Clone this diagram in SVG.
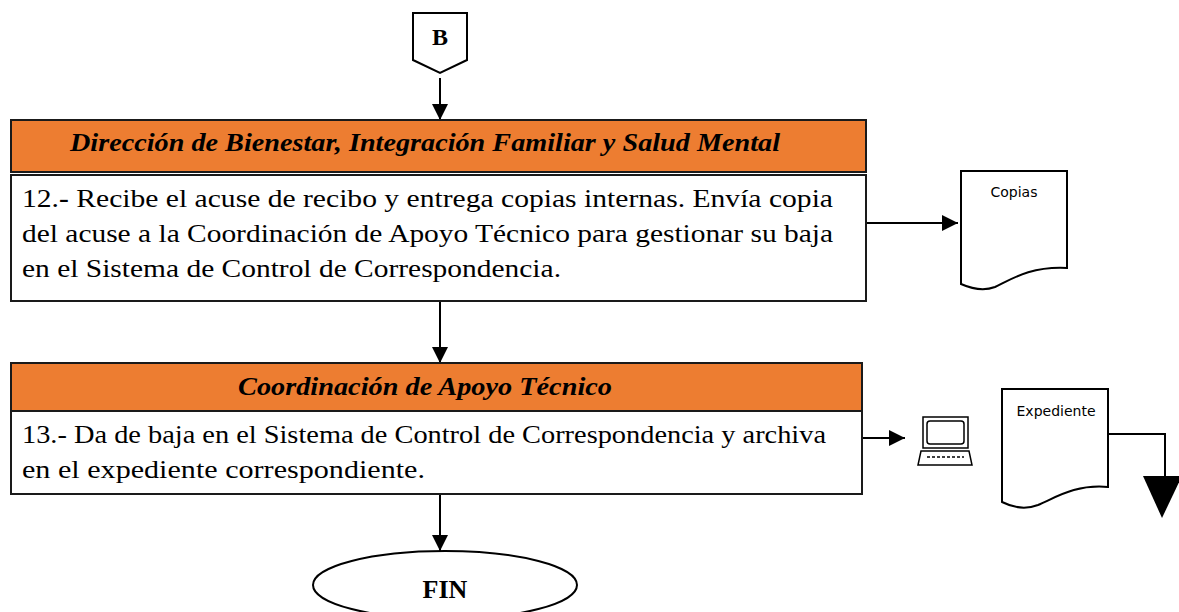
<svg xmlns="http://www.w3.org/2000/svg" width="1179" height="612" viewBox="0 0 1179 612">
<defs>
<style>
.hdr{fill:#ED7D31;stroke:#1a1a1a;stroke-width:2}
.box{fill:#fff;stroke:#1a1a1a;stroke-width:2}
.ln{fill:none;stroke:#000;stroke-width:2}
.ht{font-family:"Liberation Serif",serif;font-style:italic;font-weight:bold;font-size:25px;fill:#000}
.bt{font-family:"Liberation Serif",serif;font-size:26px;fill:#000}
.dt{font-family:"DejaVu Sans",sans-serif;font-size:14px;fill:#000;text-anchor:middle}
.ct{font-family:"Liberation Serif",serif;font-weight:bold;fill:#000;text-anchor:middle}
</style>
<marker id="ah2" viewBox="0 0 10 10" refX="10" refY="5" markerWidth="16" markerHeight="16" markerUnits="userSpaceOnUse" orient="auto">
<path d="M0,0 L10,5 L0,10 Z" fill="#000"/>
</marker>
</defs>
<rect width="1179" height="612" fill="#fff"/>

<g id="connectors">
<line class="ln" x1="440" y1="78" x2="440" y2="120" marker-end="url(#ah2)"/>
<line class="ln" x1="440" y1="301" x2="440" y2="363" marker-end="url(#ah2)"/>
<line class="ln" x1="440" y1="494" x2="440" y2="551" marker-end="url(#ah2)"/>
<line class="ln" x1="866" y1="223" x2="958" y2="223" marker-end="url(#ah2)"/>
<line class="ln" x1="862" y1="438" x2="905" y2="438" marker-end="url(#ah2)"/>
<polyline class="ln" points="1108,434 1165,434 1165,478"/>
<polygon points="1143,476 1182,476 1162,518" fill="#000"/>
</g>

<g id="nodeB">
<polygon points="413,13 467,13 467,60 440,73 413,60" fill="#fff" stroke="#000" stroke-width="2"/>
<text class="ct" x="440" y="45" font-size="24">B</text>
</g>

<g id="step12">
<rect class="hdr" x="11" y="120" width="855" height="52"/>
<text class="ht" x="70" y="151" textLength="710" lengthAdjust="spacingAndGlyphs">Dirección de Bienestar, Integración Familiar y Salud Mental</text>
<rect class="box" x="11" y="175" width="855" height="126"/>
<text class="bt" x="22" y="207" textLength="811" lengthAdjust="spacingAndGlyphs">12.<tspan font-weight="bold">-</tspan> Recibe el acuse de recibo y entrega copias internas. Envía copia</text>
<text class="bt" x="22" y="242" textLength="811" lengthAdjust="spacingAndGlyphs">del acuse a la Coordinación de Apoyo Técnico para gestionar su baja</text>
<text class="bt" x="22" y="277" textLength="539" lengthAdjust="spacingAndGlyphs">en el Sistema de Control de Correspondencia.</text>
</g>

<g id="copias">
<path d="M961,171 L1067,171 L1067,268 C1030,266 1010,280 995,287 C982,292 970,288 961,284 Z" fill="#fff" stroke="#000" stroke-width="2"/>
<text class="dt" x="1014" y="197">Copias</text>
</g>

<g id="step13">
<rect class="hdr" x="11" y="363" width="851" height="48"/>
<text class="ht" x="238" y="395" textLength="374" lengthAdjust="spacingAndGlyphs">Coordinación de Apoyo Técnico</text>
<rect class="box" x="11" y="411" width="851" height="83"/>
<text class="bt" x="22" y="443" textLength="804" lengthAdjust="spacingAndGlyphs">13.- Da de baja en el Sistema de Control de Correspondencia y archiva</text>
<text class="bt" x="22" y="478" textLength="403" lengthAdjust="spacingAndGlyphs">en el expediente correspondiente.</text>
</g>

<g id="computer">
<rect x="923" y="417" width="45" height="31" fill="#fff" stroke="#000" stroke-width="1.5"/>
<rect x="927" y="421" width="37" height="23" rx="3" fill="#fff" stroke="#000" stroke-width="1.5"/>
<path d="M921,451 L969,451 L972,465 L918,465 Z" fill="#fff" stroke="#000" stroke-width="1.5"/>
<line x1="927" y1="457" x2="964" y2="457" stroke="#000" stroke-width="1.5" stroke-dasharray="3,2"/>
</g>

<g id="expediente">
<path d="M1002,389 L1108,389 L1108,487 C1075,484 1055,498 1038,505 C1025,510 1012,507 1002,502 Z" fill="#fff" stroke="#000" stroke-width="2"/>
<text class="dt" x="1056" y="416">Expediente</text>
</g>

<g id="fin">
<ellipse cx="445" cy="585" rx="132" ry="34" fill="#fff" stroke="#000" stroke-width="2"/>
<text class="ct" x="445" y="598" font-size="26">FIN</text>
</g>
</svg>
